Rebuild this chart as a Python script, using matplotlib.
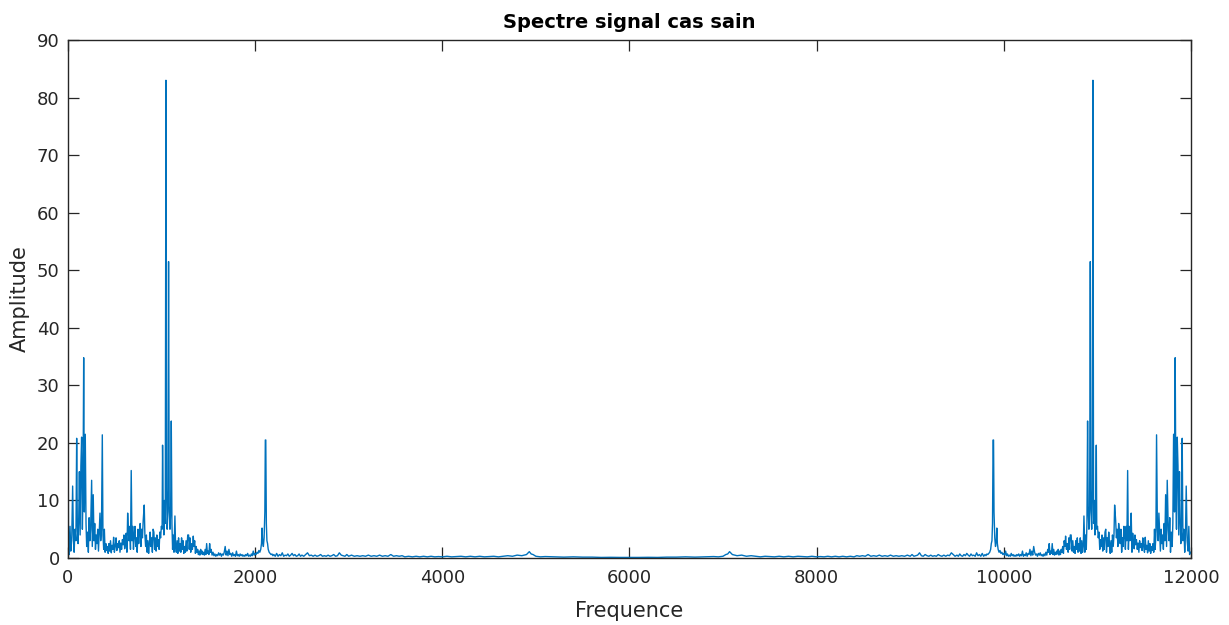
import matplotlib
matplotlib.use("Agg")
import matplotlib.pyplot as plt
import numpy as np

plt.rcParams['font.family'] = ['DejaVu Sans']

# Left half of the spectrum (0..6000 Hz).
# The spectrum is symmetric about 6000 Hz (FFT of a real signal), so the
# right half mirrors these readings (the DC bin at 0 Hz appears only once).
freq_left = [
    0, 6, 14, 22, 30, 40, 50, 58, 66, 75, 85, 93, 100, 108, 115, 122, 130, 138, 146, 154,
    161, 168, 175, 185, 193, 200, 210, 218, 226, 234, 242, 253, 260, 270, 278, 286, 294, 302, 310, 318,
    326, 334, 342, 350, 358, 367, 374, 382, 389, 397, 405, 413, 421, 430, 438, 446, 455, 463, 471, 480,
    488, 496, 505, 514, 522, 530, 540, 548, 556, 565, 573, 582, 590, 598, 606, 614, 622, 630, 638, 645,
    652, 660, 668, 676, 684, 692, 700, 708, 716, 724, 732, 740, 748, 756, 764, 772, 780, 788, 796, 804,
    815, 822, 830, 838, 846, 854, 862, 870, 878, 886, 894, 902, 910, 918, 926, 934, 942, 950, 958, 966,
    974, 982, 990, 998, 1006, 1011, 1018, 1025, 1032, 1040, 1047, 1053, 1060, 1068, 1075, 1082, 1090, 1097, 1104, 1111,
    1118, 1125, 1133, 1143, 1150, 1158, 1166, 1174, 1182, 1190, 1198, 1206, 1214, 1222, 1230, 1238, 1246, 1254, 1262, 1270,
    1280, 1289, 1296, 1304, 1312, 1320, 1330, 1339, 1346, 1354, 1362, 1370, 1378, 1386, 1394, 1402, 1410, 1418, 1426, 1434,
    1442, 1450, 1458, 1466, 1474, 1482, 1490, 1498, 1506, 1514, 1522, 1530, 1540, 1550, 1560, 1570, 1580, 1590, 1600, 1610,
    1620, 1630, 1640, 1650, 1660, 1670, 1680, 1690, 1700, 1710, 1720, 1730, 1740, 1750, 1760, 1770, 1780, 1790, 1800, 1810,
    1820, 1830, 1840, 1850, 1860, 1870, 1880, 1890, 1900, 1910, 1920, 1930, 1940, 1950, 1960, 1970, 1980, 1990, 2000, 2010,
    2020, 2030, 2040, 2050, 2060, 2068, 2074, 2080, 2088, 2096, 2104, 2109, 2114, 2120, 2126, 2133, 2140, 2150, 2160, 2170,
    2180, 2190, 2200, 2215, 2230, 2245, 2260, 2275, 2290, 2305, 2320, 2335, 2350, 2365, 2380, 2395, 2410, 2425, 2440, 2455,
    2470, 2485, 2500, 2520, 2540, 2560, 2580, 2600, 2620, 2640, 2660, 2680, 2700, 2720, 2740, 2760, 2780, 2800, 2820, 2840,
    2860, 2880, 2900, 2920, 2940, 2960, 2980, 3000, 3030, 3060, 3090, 3120, 3150, 3180, 3210, 3240, 3270, 3300, 3330, 3360,
    3390, 3420, 3450, 3480, 3510, 3540, 3570, 3600, 3640, 3680, 3720, 3760, 3800, 3840, 3880, 3920, 3960, 4000, 4050, 4100,
    4150, 4200, 4250, 4300, 4350, 4400, 4450, 4500, 4550, 4600, 4650, 4700, 4750, 4800, 4850, 4900, 4930, 4950, 4970, 5000,
    5050, 5100, 5200, 5300, 5400, 5500, 5600, 5700, 5800, 5900, 6000,
]
amp_left = [
    33, 1.0, 0.6, 5.5, 1.2, 3, 12.5, 4, 1, 5, 3, 20.8, 6, 2.5, 7, 15, 4, 16, 21, 5,
    12, 34.8, 8, 21.5, 6, 2, 4.5, 1, 7, 3, 5, 13.5, 2, 11, 3, 6, 1.5, 4, 2.5, 5,
    1.2, 4.5, 7.8, 3, 5, 21.4, 4, 1.5, 5, 1, 2.5, 1.3, 2, 0.8, 2.5, 1.2, 3, 0.9, 2.2, 1.5,
    3.6, 1, 2, 3.5, 1.3, 2.5, 1.8, 3, 1, 2.6, 1.5, 3.2, 2.3, 4, 1.6, 2.5, 4.3, 1, 7.8, 5,
    3, 5.5, 1.5, 15.2, 3, 5.5, 1.5, 4, 5.5, 2, 3.5, 1, 5, 2.5, 4.5, 6, 2, 5, 3.5, 6.5,
    9.2, 4, 2, 4, 1, 3, 0.8, 2.5, 4.5, 2, 3.5, 1, 5, 4.5, 1.5, 3.5, 1.2, 4, 2, 3.2,
    1.5, 4.5, 3.5, 5.5, 5, 19.6, 8, 4, 10, 6, 83, 12, 5, 8, 51.5, 9, 5, 8, 23.8, 6,
    1.5, 4, 1, 7.3, 2, 1, 3, 0.8, 3.5, 1.2, 2.5, 1, 3.5, 1.5, 3, 0.8, 2, 1, 3, 1.2,
    4, 4, 1.5, 3.5, 1, 2.5, 1.5, 3.8, 2, 3, 0.8, 2, 1, 1.5, 0.6, 1.2, 0.5, 1.5, 0.7, 1.2,
    0.6, 1, 0.5, 1.5, 0.6, 2.5, 0.8, 1.2, 0.6, 2.5, 1, 1.5, 0.5, 1, 0.4, 0.7, 0.3, 0.6, 0.4, 0.9,
    0.5, 0.8, 0.3, 0.7, 0.5, 1, 2, 0.5, 1.2, 0.4, 1.5, 0.6, 0.8, 0.3, 0.9, 0.4, 0.6, 0.3, 1.2, 0.4,
    0.6, 0.3, 0.7, 0.4, 0.6, 0.3, 0.5, 0.3, 0.6, 0.4, 0.8, 0.3, 0.5, 0.3, 0.7, 0.4, 1.2, 0.5, 0.8, 0.6,
    1, 0.8, 1.3, 1, 1.5, 2.5, 5.2, 3, 2, 3.5, 8, 20.5, 20.5, 6, 3, 2.5, 1.5, 1, 0.8, 0.6,
    0.7, 0.4, 0.6, 0.3, 0.8, 0.3, 0.6, 0.4, 0.9, 0.3, 0.5, 0.4, 0.7, 0.3, 0.5, 0.8, 0.4, 0.6, 0.3, 0.4,
    0.7, 0.3, 0.5, 0.3, 0.6, 0.9, 0.4, 0.5, 0.3, 0.5, 0.3, 0.4, 0.6, 0.3, 0.4, 0.3, 0.5, 0.3, 0.4, 0.6,
    0.3, 0.4, 0.9, 0.5, 0.4, 0.3, 0.6, 0.3, 0.5, 0.3, 0.4, 0.3, 0.4, 0.3, 0.5, 0.3, 0.4, 0.3, 0.5, 0.3,
    0.4, 0.3, 0.6, 0.3, 0.4, 0.3, 0.4, 0.2, 0.3, 0.2, 0.3, 0.2, 0.3, 0.2, 0.3, 0.2, 0.25, 0.2, 0.3, 0.2,
    0.25, 0.3, 0.2, 0.3, 0.2, 0.3, 0.2, 0.25, 0.3, 0.2, 0.3, 0.4, 0.3, 0.5, 0.4, 0.6, 1.1, 0.7, 0.6, 0.3,
    0.2, 0.25, 0.2, 0.15, 0.2, 0.15, 0.15, 0.1, 0.12, 0.1, 0.1,
]

x_ticks = [0, 2000, 4000, 6000, 8000, 10000, 12000]
y_ticks = [0, 10, 20, 30, 40, 50, 60, 70, 80, 90]
title = "Spectre signal cas sain"
xlabel = "Frequence"
ylabel = "Amplitude"
f_max = 12000

fl = np.array(freq_left, dtype=float)
al = np.array(amp_left, dtype=float)
# mirror without the DC bin and without duplicating the 6000 Hz point
freq = np.concatenate([fl, (f_max - fl[1:-1][::-1])])
amp = np.concatenate([al, al[1:-1][::-1]])

fig = plt.figure(figsize=(12.29, 6.25), dpi=100)
ax = fig.add_axes([0.0553, 0.1072, 0.9137, 0.8288])
ax.plot(freq, amp, color='#0072BD', linewidth=1.0)

ax.set_xlim(0, 12000)
ax.set_ylim(0, 90)
ax.set_xticks(x_ticks)
ax.set_yticks(y_ticks)
ax.tick_params(direction='in', length=8, width=0.9, colors='#262626',
               labelsize=13, top=True, right=True)
ax.tick_params(axis='x', pad=8)
ax.tick_params(axis='y', pad=6)
for s in ax.spines.values():
    s.set_color('#262626')
    s.set_linewidth(1.0)
ax.set_title(title, fontsize=14, fontweight='bold', color='black', pad=9)
ax.set_xlabel(xlabel, fontsize=15, color='#262626', labelpad=10)
ax.set_ylabel(ylabel, fontsize=15, color='#262626', labelpad=5)

fig.savefig("out.png", dpi=100)
